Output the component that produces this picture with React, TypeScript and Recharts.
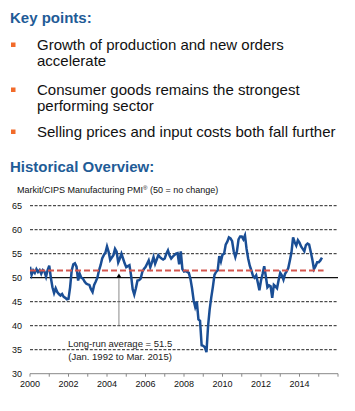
import React from 'react';
import { LineChart, Line, XAxis, YAxis, ReferenceLine, ReferenceDot } from 'recharts';

// Monthly Markit/CIPS UK Manufacturing PMI, Jan 2000 - Mar 2015
const pmi2000 = [52.3, 50.6, 51.5, 51.0, 51.8, 51.2, 51.6, 50.8, 51.6, 51.3, 50.2, 51.6];
const pmi2001 = [52.5, 50.0, 48.0, 46.8, 47.8, 47.0, 46.6, 46.3, 46.6, 46.0, 45.8, 45.5];
const pmi2002 = [45.6, 48.0, 51.5, 52.8, 53.0, 52.3, 49.4, 50.8, 50.0, 49.8, 49.2, 48.8];
const pmi2003 = [48.6, 48.5, 47.6, 47.0, 48.5, 49.2, 50.0, 51.5, 52.6, 54.0, 54.7, 55.2];
const pmi2004 = [56.5, 55.4, 53.7, 54.2, 54.7, 56.0, 55.4, 53.2, 54.0, 55.0, 54.0, 53.0];
const pmi2005 = [52.2, 52.4, 52.6, 50.5, 47.6, 46.5, 47.8, 49.4, 49.5, 49.8, 51.2, 51.8];
const pmi2006 = [52.2, 52.9, 53.6, 52.2, 53.2, 54.3, 52.9, 53.8, 54.7, 54.3, 54.0, 53.8];
const pmi2007 = [54.0, 55.0, 55.7, 54.6, 54.0, 54.4, 54.7, 55.0, 55.1, 52.8, 55.5, 51.8];
const pmi2008 = [51.3, 51.4, 51.2, 51.0, 49.8, 47.8, 45.3, 43.9, 45.0, 41.3, 41.0, 35.9];
const pmi2009 = [35.8, 35.5, 34.5, 39.9, 43.4, 45.9, 48.1, 50.6, 51.2, 51.5, 54.5, 53.4];
const pmi2010 = [54.8, 55.0, 56.9, 57.5, 58.4, 58.2, 57.6, 55.5, 54.3, 55.5, 58.0, 58.6];
const pmi2011 = [58.6, 58.0, 58.8, 56.0, 54.0, 52.5, 51.5, 50.4, 50.0, 50.5, 49.0, 47.4];
const pmi2012 = [49.4, 50.8, 52.4, 50.3, 48.0, 48.4, 48.2, 45.8, 48.5, 48.2, 47.8, 49.5];
const pmi2013 = [51.0, 50.5, 49.6, 50.8, 51.3, 52.0, 53.6, 55.3, 58.4, 57.4, 56.7, 57.8];
const pmi2014 = [57.3, 56.5, 56.0, 55.5, 56.8, 57.1, 56.9, 55.4, 53.8, 51.8, 52.4, 53.2];
const pmi2015 = [53.2, 53.6, 54.2];

const pmiByYear: [number, number[]][] = [
  [2000, pmi2000], [2001, pmi2001], [2002, pmi2002], [2003, pmi2003],
  [2004, pmi2004], [2005, pmi2005], [2006, pmi2006], [2007, pmi2007],
  [2008, pmi2008], [2009, pmi2009], [2010, pmi2010], [2011, pmi2011],
  [2012, pmi2012], [2013, pmi2013], [2014, pmi2014], [2015, pmi2015],
];

const xTicks = [2000, 2001, 2002, 2003, 2004, 2005, 2006, 2007, 2008, 2009, 2010, 2011, 2012, 2013, 2014, 2015, 2016];
const xLabelYears = [2000, 2002, 2004, 2006, 2008, 2010, 2012, 2014];
const yTicks = [30, 35, 40, 45, 50, 55, 60, 65];
const dashedGrid = [35, 40, 45, 55, 60, 65];
const noChangeLevel = 50;
const longRunAverage = 51.5;
const averageStart = 2000;
const averageEnd = 2015.25;
const arrowYear = 2004.62;
const arrowFrom = 40;
const arrowTip = 50.35;
const noteYear = 2004.68;
const noteLevel = 35;

const keyPoints = [
  ['Growth of production and new orders', 'accelerate'],
  ['Consumer goods remains the strongest', 'performing sector'],
  ['Selling prices and input costs both fall further'],
];

const data = pmiByYear.flatMap(([year, vals]) =>
  vals.map((v, m) => ({ t: year + m / 12, pmi: v }))
);

const FONT = '"Liberation Sans", Arial, Helvetica, sans-serif';
const BLUE_HEAD = '#1F5C97';

const Triangle = (props: any) => {
  const { cx, cy } = props;
  if (cx == null || cy == null) return null;
  return <polygon points={`${cx},${cy - 2.4} ${cx - 2.7},${cy + 2} ${cx + 2.7},${cy + 2}`} fill="#000" />;
};

const Note = (props: any) => {
  const { cx, cy } = props;
  if (cx == null || cy == null) return null;
  return (
    <text x={cx} textAnchor="middle" fontSize={9.5} fill="#222" fontFamily={FONT}>
      <tspan x={cx} y={cy - 2.4}>Long-run average = 51.5</tspan>
      <tspan x={cx} y={cy + 10.3}>(Jan. 1992 to Mar. 2015)</tspan>
    </text>
  );
};

export default function App() {
  const lineYs = [[50, 66], [95, 111], [137]];
  const bulletYs = [42.5, 87.5, 129.5];
  return (
    <div style={{ position: 'absolute', left: 0, top: 0, width: 355, height: 411, background: '#fff', fontFamily: FONT }}>
      <div style={{ position: 'absolute', left: 0, top: 0 }}>
        <LineChart width={355} height={411} data={data} margin={{ top: 205.7, right: 17, bottom: 17.3, left: 0 }}>
          {dashedGrid.map((g) => (
            <ReferenceLine key={g} y={g} stroke="#222" strokeWidth={1} strokeDasharray="3 1.6" />
          ))}
          <ReferenceLine y={noChangeLevel} stroke="#111" strokeWidth={1.2} />
          <XAxis
            type="number"
            dataKey="t"
            domain={[2000, 2016]}
            ticks={xTicks}
            interval={0}
            tickFormatter={(v: number) => (xLabelYears.includes(v) ? String(v) : '')}
            tick={{ fontSize: 9, fill: '#111', fontFamily: FONT }}
            axisLine={{ stroke: '#888' }}
            tickLine={{ stroke: '#888' }}
            tickSize={3}
            tickMargin={4}
            height={20}
            allowDataOverflow
          />
          <YAxis
            type="number"
            domain={[30, 65]}
            ticks={yTicks}
            interval={0}
            width={30}
            axisLine={false}
            tickLine={false}
            tickSize={0}
            tickMargin={8}
            tick={{ fontSize: 9, fill: '#111', fontFamily: FONT }}
            allowDataOverflow
          />
          <ReferenceLine
            segment={[{ x: arrowYear, y: arrowFrom }, { x: arrowYear, y: arrowTip }]}
            stroke="#8a8a8a"
            strokeWidth={1}
          />
          <ReferenceDot x={arrowYear} y={arrowTip} shape={Triangle} />
          <ReferenceDot x={noteYear} y={noteLevel} shape={Note} />
          <Line
            type="linear"
            dataKey="pmi"
            stroke="#1A4E95"
            strokeWidth={2.5}
            dot={false}
            isAnimationActive={false}
          />
          <ReferenceLine
            segment={[{ x: averageStart, y: longRunAverage }, { x: averageEnd, y: longRunAverage }]}
            stroke="#D4564F"
            strokeWidth={2}
            strokeDasharray="6 3"
          />
        </LineChart>
      </div>
      <svg width={355} height={200} style={{ position: 'absolute', left: 0, top: 0, pointerEvents: 'none' }}>
        <text x={10} y={23} fontSize={15} fontWeight="bold" fill={BLUE_HEAD} fontFamily={FONT}>Key points:</text>
        {keyPoints.map((lines, i) => (
          <g key={i}>
            <rect x={11} y={bulletYs[i]} width={4.5} height={4.5} fill="#F26B2A" />
            {lines.map((l, j) => (
              <text key={j} x={37} y={lineYs[i][j]} fontSize={15} fill="#111" fontFamily={FONT}>{l}</text>
            ))}
          </g>
        ))}
        <text x={10} y={171.5} fontSize={15} fontWeight="bold" fill={BLUE_HEAD} fontFamily={FONT}>Historical Overview:</text>
        <text x={17} y={193} fontSize={9} fill="#111" fontFamily={FONT}>
          Markit/CIPS Manufacturing PMI<tspan fontSize={6} dy={-3.5}>®</tspan><tspan dy={3.5}> (50 = no change)</tspan>
        </text>
      </svg>
    </div>
  );
}
